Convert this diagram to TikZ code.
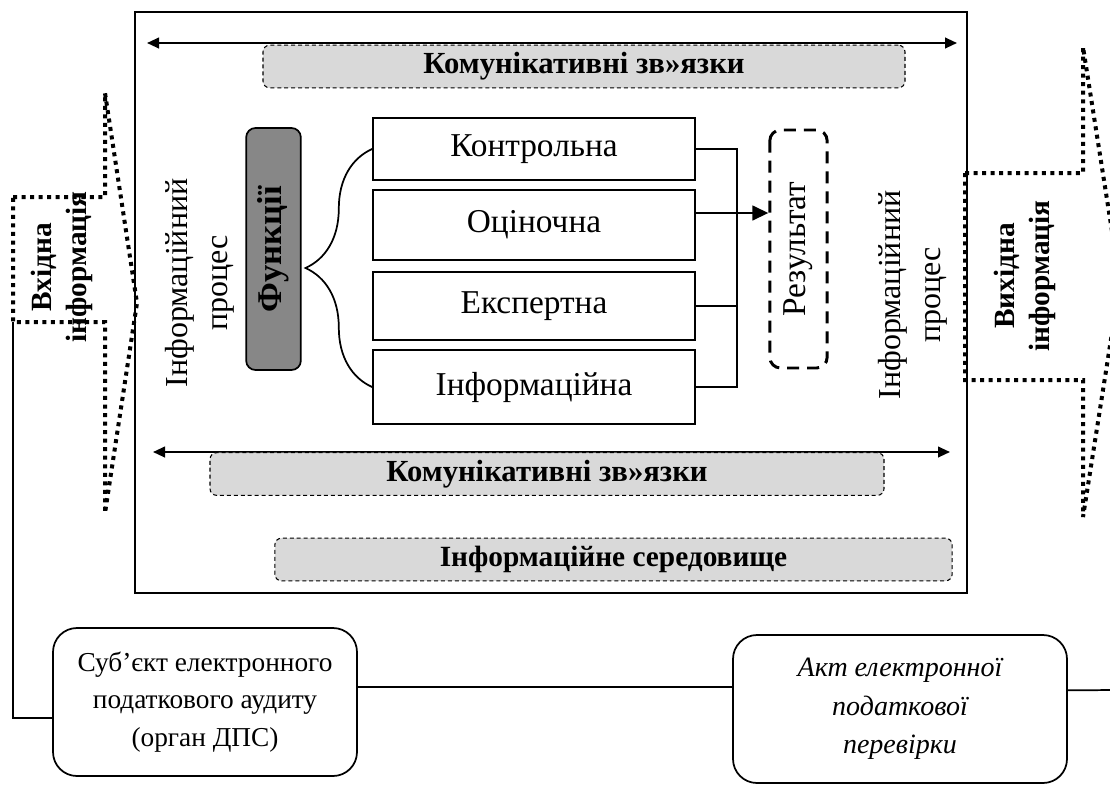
\documentclass[tikz,border=0pt]{standalone}
\usepackage{fontspec}
\setmainfont{Liberation Serif}
\usetikzlibrary{arrows.meta,decorations.pathreplacing,positioning}
\definecolor{commgray}{HTML}{D9D9D9}
\definecolor{funcgray}{HTML}{878787}

\begin{document}
\begin{tikzpicture}[x=0.75pt,y=-0.75pt,
    funcbox/.style={draw,line width=1.3pt,minimum width=241.5pt,inner sep=0pt,font=\fontsize{25}{29}\selectfont},
    commbox/.style={draw,dashed,line width=0.8pt,dash pattern=on 3pt off 2.2pt,rounded corners=5pt,fill=commgray,minimum height=32pt,inner sep=0pt,font=\bfseries\fontsize{23}{27}\selectfont},
    bigdots/.style={line width=3pt,dash pattern=on 3pt off 3.4pt},
    roundbox/.style={draw,line width=1.3pt,rounded corners=18pt,minimum width=228pt,minimum height=111pt,align=center,font=\fontsize{20.5}{28}\selectfont},
    twoway/.style={{Triangle[length=9pt,width=8pt]}-{Triangle[length=9pt,width=8pt]},line width=1.5pt}]
\clip (0,0) rectangle (1110,790);

% Frame
\draw[line width=1.5pt] (135,12) rectangle (967,593);

% Communication links, top and bottom
\coordinate (topL) at (147,43);
\coordinate (topR) at (957,43);
\draw[twoway] (topL) -- (topR);
\node[commbox,minimum width=481.5pt] (comTop) at (584,66.5) {Комунікативні зв»язки};
\coordinate (botL) at (153,452);
\coordinate (botR) at (950,452);
\draw[twoway] (botL) -- (botR);
\node[commbox,minimum width=505.5pt] (comBot) at (547,474) {Комунікативні зв»язки};
\node[commbox,minimum width=508pt,font=\bfseries\fontsize{22}{26}\selectfont] (env) at (613.5,559.5) {Інформаційне середовище};

% Functions
\node[draw,line width=1.3pt,fill=funcgray,rounded corners=7pt,rotate=90,minimum width=181.5pt,minimum height=41pt,font=\bfseries\fontsize{26}{30}\selectfont] (func) at (273.5,249) {Функції};
\node[funcbox,minimum height=46.5pt] (kontr) at (534,149) {Контрольна};
\node[funcbox,minimum height=52.5pt] (ocin) at (534,225) {Оціночна};
\node[funcbox,minimum height=51pt] (eksp) at (534,306) {Експертна};
\node[funcbox,minimum height=56pt] (inf) at (534,387) {Інформаційна};
\draw[decorate,decoration={brace,amplitude=50pt},line width=1.3pt] (inf.west) -- (kontr.west);

% Result
\node[draw,dashed,line width=2.2pt,dash pattern=on 9pt off 6pt,rounded corners=8pt,rotate=90,minimum width=178.5pt,minimum height=43pt,font=\fontsize{25}{29}\selectfont] (rez) at (798.5,249) {Результат};
\coordinate (busTop) at (737,149);
\draw[line width=1.3pt] (kontr.east) -- (kontr.east -| busTop) -- (inf.east -| busTop) -- (inf.east);
\draw[line width=1.3pt] (eksp.east) -- (eksp.east -| busTop);
\coordinate (ocinOut) at ([yshift=9pt]ocin.east);
\draw[-{Triangle[length=12pt,width=11pt]},line width=1.8pt] (ocinOut) -- (ocinOut -| rez.north);

% Process labels
\node[rotate=90,align=center,font=\fontsize{24}{30}\selectfont] (procL) at (200,283) {Інформаційний\\процес};
\node[rotate=90,align=center,font=\fontsize{24}{30}\selectfont] (procR) at (913,295) {Інформаційний\\процес};

% Input and output
\draw[bigdots] (13,197) -- (105,197) -- (105,93) -- (137,303) -- (105,513) -- (105,322) -- (13,322) -- cycle;
\node[rotate=90,align=center,font=\bfseries\fontsize{22}{26}\selectfont] (vhid) at (62,267) {Вхідна\\інформація};
\draw[bigdots] (965,173) -- (1083,173) -- (1083,47) -- (1120,282) -- (1083,517) -- (1083,380) -- (965,380) -- cycle;
\node[rotate=90,align=center,font=\bfseries\fontsize{22}{26}\selectfont] (vyhid) at (1025,276) {Вихідна\\інформація};

% Bottom boxes
\node[roundbox] (subj) at (205,702) {Суб’єкт електронного\\податкового аудиту\\(орган ДПС)};
\node[roundbox,minimum width=250.5pt,font=\itshape\fontsize{21}{29}\selectfont] (akt) at (900,709) {Акт електронної\\податкової\\перевірки};
\coordinate (vhidFoot) at (13,322);
\draw[line width=1.5pt] ([yshift=-12pt]subj.west) -| (vhidFoot);
\draw[line width=1.3pt] ([yshift=11pt]subj.east) -- ([yshift=11pt]subj.east -| akt.west);
\coordinate (edgeR) at (1115,690);
\draw[line width=1.3pt] ([yshift=14pt]akt.east) -- (edgeR);
\end{tikzpicture}
\end{document}
